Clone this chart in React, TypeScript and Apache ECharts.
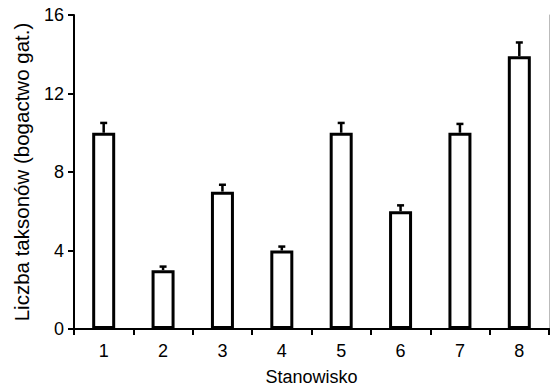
import React, { useEffect, useRef } from "react";
import * as echarts from "echarts";

const categories = ["1", "2", "3", "4", "5", "6", "7", "8"];
const values = [10, 3, 7, 4, 10, 6, 10, 13.9];
const errors = [0.5, 0.18, 0.35, 0.2, 0.5, 0.3, 0.45, 0.7];
const yTicks = { min: 0, max: 16, interval: 4 };

const FONT = "'Liberation Sans', Arial, sans-serif";

export default function App() {
  const ref = useRef<HTMLDivElement>(null);
  useEffect(() => {
    const chart = echarts.init(ref.current!, undefined, { renderer: "svg" });
    const errData = values.map((v, i) => [i, v, v + errors[i]]);
    chart.setOption({
      animation: false,
      backgroundColor: "#fff",
      textStyle: { fontFamily: FONT, color: "#000" },
      grid: { left: 74, right: 1, top: 15, bottom: 58 },
      xAxis: [
        {
          type: "category",
          data: categories,
          axisLine: { lineStyle: { color: "#000", width: 2 } },
          axisTick: { show: true, inside: false, length: 6, lineStyle: { color: "#000", width: 2 } },
          axisLabel: { color: "#000", fontSize: 18, margin: 13, fontFamily: FONT },
          name: "Stanowisko",
          nameLocation: "middle",
          nameGap: 39,
          nameTextStyle: { color: "#000", fontSize: 18, fontFamily: FONT },
        },
        {
          type: "category",
          data: categories,
          position: "top",
          axisLine: { lineStyle: { color: "#000", width: 2 } },
          axisTick: { show: false },
          axisLabel: { show: false },
        },
      ],
      yAxis: [
        {
          type: "value",
          min: yTicks.min,
          max: yTicks.max,
          interval: yTicks.interval,
          splitLine: { show: false },
          axisLine: { show: true, lineStyle: { color: "#000", width: 2 } },
          axisTick: { show: true, length: 6, lineStyle: { color: "#000", width: 2 } },
          axisLabel: { color: "#000", fontSize: 18, margin: 10, fontFamily: FONT },
          name: "Liczba taksonów (bogactwo gat.)",
          nameLocation: "middle",
          nameGap: 42,
          nameTextStyle: { color: "#000", fontSize: 20.5, fontFamily: FONT },
        },
        {
          type: "value",
          min: yTicks.min,
          max: yTicks.max,
          interval: yTicks.interval,
          position: "right",
          splitLine: { show: false },
          axisLine: { show: true, lineStyle: { color: "#bbb", width: 1 } },
          axisTick: { show: false },
          axisLabel: { show: false },
        },
      ],
      series: [
        {
          type: "bar",
          data: values,
          barWidth: 23,
          itemStyle: { color: "#fff", borderColor: "#000", borderWidth: 3 },
        },
        {
          type: "custom",
          data: errData,
          z: 5,
          renderItem: (params: any, api: any) => {
            const i = api.value(0);
            const lo = api.coord([i, api.value(1)]);
            const hi = api.coord([i, api.value(2)]);
            const half = 3.5;
            return {
              type: "group",
              children: [
                {
                  type: "line",
                  shape: { x1: lo[0], y1: lo[1], x2: hi[0], y2: hi[1] },
                  style: { stroke: "#000", lineWidth: 2.5 },
                },
                {
                  type: "line",
                  shape: { x1: hi[0] - half, y1: hi[1], x2: hi[0] + half, y2: hi[1] },
                  style: { stroke: "#000", lineWidth: 2.5 },
                },
              ],
            };
          },
        },
      ],
    });
    return () => chart.dispose();
  }, []);
  return <div ref={ref} style={{ width: 550, height: 391, position: "absolute", left: 0, top: 0 }} />;
}
